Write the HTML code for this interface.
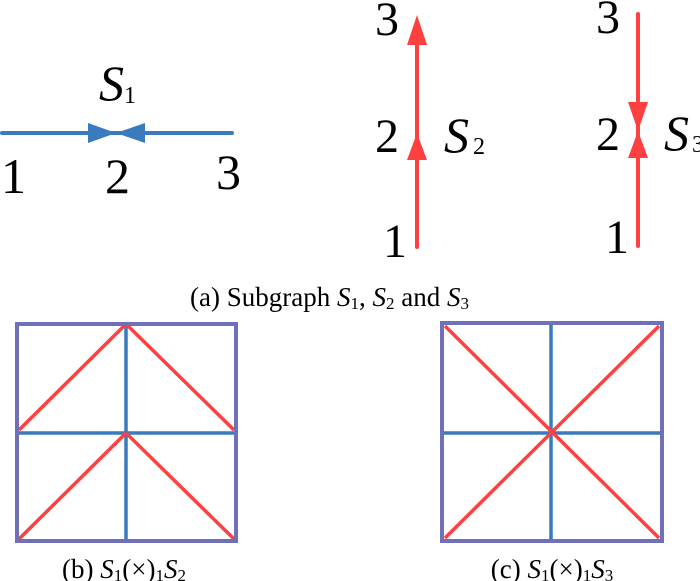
<!DOCTYPE html>
<html><head><style>body{margin:0;background:#fff}svg{display:block}text{font-family:"Liberation Serif",serif}</style></head><body>
<svg width="700" height="581" viewBox="0 0 700 581" xmlns="http://www.w3.org/2000/svg" fill="#000" font-family="'Liberation Serif', serif">
<!-- S1 -->
<line x1="2" y1="133" x2="232" y2="133" stroke="#3a7bbf" stroke-width="4" stroke-linecap="round"/>
<polygon points="88,123 116,133 88,143" fill="#3a7bbf"/>
<polygon points="145,123 116,133 145,143" fill="#3a7bbf"/>
<text x="1" y="193" font-size="50">1</text>
<text x="105" y="193" font-size="50">2</text>
<text x="216" y="189" font-size="50">3</text>
<text x="99" y="100" font-size="50" font-style="italic">S</text><text x="124" y="103" font-size="24">1</text>
<!-- S2 -->
<line x1="417" y1="40" x2="417" y2="247" stroke="#ff4040" stroke-width="4" stroke-linecap="round"/>
<polygon points="417,15 407,45 427,45" fill="#ff4040"/>
<polygon points="417,133 407,160 427,160" fill="#ff4040"/>
<text x="375" y="35" font-size="48">3</text>
<text x="375" y="152" font-size="48">2</text>
<text x="383" y="257" font-size="48">1</text>
<text x="444" y="152" font-size="50" font-style="italic">S</text><text x="473" y="154" font-size="24">2</text>
<!-- S3 -->
<line x1="638" y1="14" x2="638" y2="246" stroke="#ff4040" stroke-width="4" stroke-linecap="round"/>
<polygon points="638,131 628,102 648,102" fill="#ff4040"/>
<polygon points="638,131 628,158 648,158" fill="#ff4040"/>
<text x="596" y="33" font-size="48">3</text>
<text x="596" y="150" font-size="48">2</text>
<text x="605" y="253" font-size="48">1</text>
<text x="664" y="150" font-size="50" font-style="italic">S</text><text x="692" y="152" font-size="24">3</text>
<!-- caption a -->
<text x="190" y="306" font-size="27">(a) Subgraph <tspan font-style="italic">S</tspan><tspan font-size="17" dy="3">1</tspan><tspan dy="-3">, </tspan><tspan font-style="italic">S</tspan><tspan font-size="17" dy="3">2</tspan><tspan dy="-3"> and </tspan><tspan font-style="italic">S</tspan><tspan font-size="17" dy="3">3</tspan></text>
<!-- box b -->
<g stroke-width="3.5">
<line x1="126" y1="324" x2="126" y2="541" stroke="#3a7bbf"/>
<line x1="17" y1="433" x2="236" y2="433" stroke="#3a7bbf"/>
<g stroke="#ff4040"><line x1="19" y1="430" x2="126" y2="324"/><line x1="126" y1="324" x2="234" y2="430"/><line x1="19" y1="539" x2="126" y2="433"/><line x1="126" y1="433" x2="234" y2="539"/></g>
<rect x="17" y="324" width="219" height="217" fill="none" stroke="#6f70b8" stroke-width="4"/>
</g>
<text x="124" y="578" font-size="27" text-anchor="middle">(b) <tspan font-style="italic">S</tspan><tspan font-size="17" dy="3">1</tspan><tspan dy="-3">(×)</tspan><tspan font-size="17" dy="3">1</tspan><tspan dy="-3" font-style="italic">S</tspan><tspan font-size="17" dy="3">2</tspan></text>
<!-- box c -->
<g stroke-width="3.5">
<line x1="551" y1="323" x2="551" y2="541" stroke="#3a7bbf"/>
<line x1="442" y1="433" x2="662" y2="433" stroke="#3a7bbf"/>
<g stroke="#ff4040"><line x1="445" y1="326" x2="659" y2="538"/><line x1="659" y1="326" x2="445" y2="538"/></g>
<rect x="442" y="323" width="220" height="218" fill="none" stroke="#6f70b8" stroke-width="4"/>
</g>
<text x="552" y="578" font-size="27" text-anchor="middle">(c) <tspan font-style="italic">S</tspan><tspan font-size="17" dy="3">1</tspan><tspan dy="-3">(×)</tspan><tspan font-size="17" dy="3">1</tspan><tspan dy="-3" font-style="italic">S</tspan><tspan font-size="17" dy="3">3</tspan></text>
</svg>
</body></html>
